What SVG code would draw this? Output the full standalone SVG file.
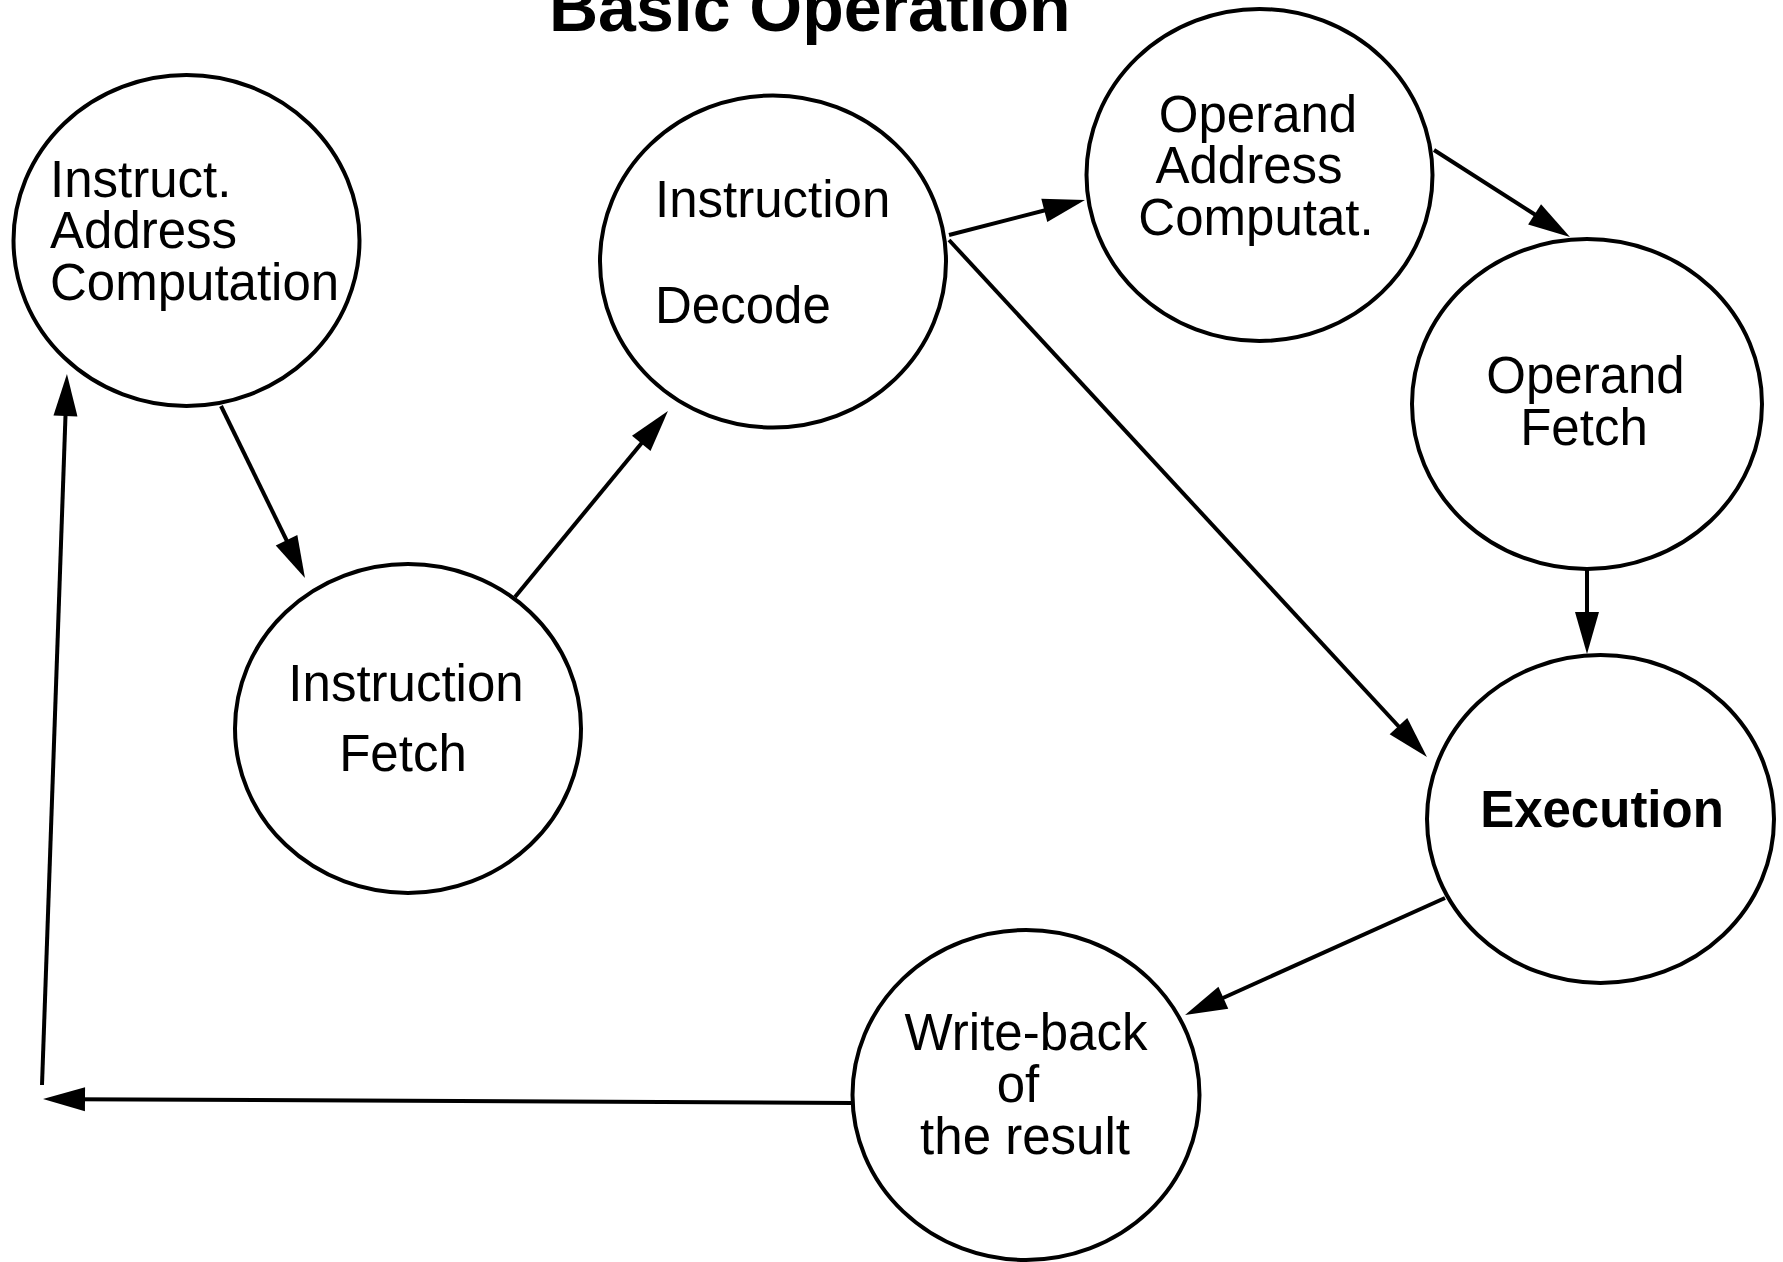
<svg xmlns="http://www.w3.org/2000/svg" width="1783" height="1262" viewBox="0 0 1783 1262">
  <style>
    .node ellipse { fill: #fff; stroke: #000; stroke-width: 4; }
    .lbl { font-family: "Liberation Sans", Arial, Helvetica, sans-serif; font-size: 51px; fill: #000; }
    .mid { text-anchor: middle; }
    .bold { font-weight: bold; }
    .title { font-family: "Liberation Sans", Arial, Helvetica, sans-serif; font-size: 68px; font-weight: bold; fill: #000; }
    .edges line { stroke: #000; stroke-width: 4; fill: none; marker-end: url(#head); }
  </style>
  <defs>
    <!-- filled arrowhead; tip sits 30px past the line end -->
    <marker id="head" markerUnits="userSpaceOnUse" markerWidth="44" markerHeight="26" viewBox="0 0 44 26" refX="13" refY="13" orient="auto">
      <path d="M1,1 L43,13 L1,25 Z" fill="#000"/>
    </marker>
  </defs>
  <rect width="1783" height="1262" fill="#fff"/>

  <text class="title" x="549" y="31">Basic Operation</text>

  <g class="edges">
    <line x1="221" y1="406" x2="291.8" y2="551"/>
    <line x1="515" y1="597" x2="648.9" y2="434.2"/>
    <line x1="949" y1="235" x2="1055.9" y2="207.5"/>
    <line x1="949" y1="240" x2="1406.6" y2="735"/>
    <line x1="1434" y1="150" x2="1544.7" y2="220.8"/>
    <line x1="1587" y1="568" x2="1587" y2="624"/>
    <line x1="1445" y1="898" x2="1212.4" y2="1002.7"/>
    <line x1="853" y1="1103" x2="73" y2="1099.2"/>
    <line x1="42" y1="1085" x2="65.9" y2="404"/>
  </g>

  <g id="instr-address" class="node">
    <ellipse cx="186.5" cy="240.5" rx="173" ry="165.5"/>
    <text class="lbl" x="50" y="197">Instruct.</text>
    <text class="lbl" x="50" y="248">Address</text>
    <text class="lbl" x="50" y="300">Computation</text>
  </g>

  <g id="instr-fetch" class="node">
    <ellipse cx="408" cy="728.5" rx="173" ry="164.5"/>
    <text class="lbl mid" x="406" y="701">Instruction</text>
    <text class="lbl mid" x="403" y="771">Fetch</text>
  </g>

  <g id="instr-decode" class="node">
    <ellipse cx="773" cy="261.5" rx="173" ry="166"/>
    <text class="lbl" x="655" y="217">Instruction</text>
    <text class="lbl" x="655" y="323">Decode</text>
  </g>

  <g id="operand-address" class="node">
    <ellipse cx="1259.5" cy="175" rx="173" ry="166"/>
    <text class="lbl mid" x="1258" y="132">Operand</text>
    <text class="lbl mid" x="1249" y="183">Address</text>
    <text class="lbl mid" x="1256" y="235">Computat.</text>
  </g>

  <g id="operand-fetch" class="node">
    <ellipse cx="1587" cy="404" rx="175" ry="165"/>
    <text class="lbl mid" x="1585.5" y="393">Operand</text>
    <text class="lbl mid" x="1584" y="445">Fetch</text>
  </g>

  <g id="execution" class="node">
    <ellipse cx="1600.5" cy="819" rx="173.5" ry="164"/>
    <text class="lbl mid bold" x="1602" y="827">Execution</text>
  </g>

  <g id="write-back" class="node">
    <ellipse cx="1026" cy="1095" rx="173.5" ry="165"/>
    <text class="lbl mid" x="1026" y="1050">Write-back</text>
    <text class="lbl mid" x="1018" y="1102">of</text>
    <text class="lbl mid" x="1025" y="1154">the result</text>
  </g>
</svg>
